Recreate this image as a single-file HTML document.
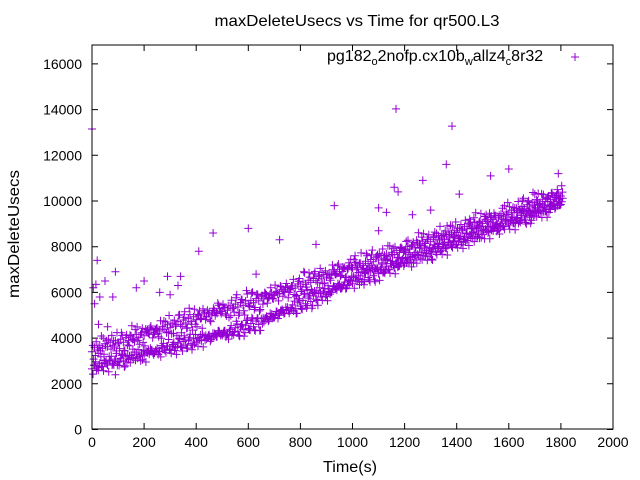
<!DOCTYPE html>
<html><head><meta charset="utf-8"><style>
body{margin:0;background:#fff}
svg{display:block;font-family:"Liberation Sans",sans-serif}
</style></head><body>
<svg id="chart" width="640" height="480" xmlns="http://www.w3.org/2000/svg">
<rect x="0" y="0" width="640" height="480" fill="#fff"/>
<text x="357" y="26" font-size="16" text-anchor="middle" textLength="285" lengthAdjust="spacingAndGlyphs">maxDeleteUsecs vs Time for qr500.L3</text>
<text x="19" y="234" font-size="16" text-anchor="middle" textLength="128" lengthAdjust="spacingAndGlyphs" transform="rotate(-90 19 234)">maxDeleteUsecs</text>
<text x="350" y="472" font-size="16" text-anchor="middle" textLength="54" lengthAdjust="spacingAndGlyphs">Time(s)</text>
<g id="ticks"></g>
<g id="pts"></g>
<rect x="92" y="45" width="521" height="384" fill="none" stroke="#000" stroke-width="1"/>
<text x="327" y="61" font-size="16">pg182<tspan font-size="11" dy="4">o</tspan><tspan dy="-4">2nofp.cx10b</tspan><tspan font-size="11" dy="4">w</tspan><tspan dy="-4">allz4</tspan><tspan font-size="11" dy="4">c</tspan><tspan dy="-4">8r32</tspan></text>
<path d="M571 57h8M575 53v8" stroke="#9400d3" stroke-width="1"/>
</svg>
<script>
const xTicks=[0,200,400,600,800,1000,1200,1400,1600,1800,2000];
const yTicks=[0,2000,4000,6000,8000,10000,12000,14000,16000];
const step=10;
const lowerBand=[2650,2800,2700,2900,2750,2950,2820,3000,2880,3080,2950,3120,3000,3180,3060,3250,3100,3300,3180,3350,3220,3420,3300,3480,3350,3550,3400,3600,3460,3650,3520,3720,3580,3780,3650,3850,3700,3900,3760,3960,3820,4020,3880,4080,3950,4150,4000,4200,4060,4260,4120,4320,4180,4380,4250,4450,4300,4500,4380,4560,4420,
4640,4500,4750,4600,4850,4700,4950,4800,5050,4900,5150,5000,5250,5100,5350,5200,5450,5300,5550,5400,5650,5500,5750,5600,5850,5700,5950,5800,6050,5900,6150,6000,6250,6100,6350,6200,6450,6300,6550,6400,
6650,6480,6720,6560,6820,6650,6900,6730,6990,6820,7080,6900,7150,6990,7250,7080,7330,7160,7420,7250,7500,7330,7580,7420,7670,7500,7750,7590,7840,7680,7920,7760,8010,7850,8090,7930,8180,8020,8260,8100,
8350,8190,8430,8270,8520,8360,8600,8440,8690,8530,8770,8610,8860,8700,8940,8780,9030,8870,9110,8950,9200,9040,9280,9120,9370,9210,9450,9290,9540,9380,9620,9460,9710,9550,9790,9630,9880,9720,9960,9850];
const upperBand=[3400,3600,3480,3680,3550,3750,3620,3820,3690,3880,3750,3950,3820,4020,3890,4090,3960,4160,4030,4230,4100,4300,4170,4370,4240,4440,4310,4510,4380,4580,4450,4650,4520,4720,4590,4790,4660,4860,4730,4930,4800,5000,4870,5070,4940,5140,5010,5210,5080,5280,5150,5350,5220,5420,5290,5490,5360,5560,5430,5630,5500,
5650,5550,5730,5630,5810,5710,5890,5790,5970,5870,6050,5950,6130,6030,6210,6110,6290,6190,6370,6270,6450,6350,6530,6430,6610,6510,6690,6590,6770,6670,6850,6750,6930,6830,7010,6910,7090,6990,7170,7070,
7200,7100,7280,7180,7360,7260,7440,7340,7520,7420,7600,7500,7680,7580,7760,7660,7840,7740,7920,7820,8000,7900,8080,7980,8160,8060,8240,8140,8320,8220,8400,8300,8480,8380,8560,8460,8640,8540,8720,8620,
8800,8700,8880,8780,8960,8860,9040,8940,9120,9020,9200,9100,9280,9180,9360,9260,9440,9340,9520,9420,9600,9500,9680,9580,9760,9660,9840,9740,9920,9820,10000,9900,10080,9980,10160,10060,10240,10140,10320,10220];
const spreadA=[-320,240,-150,410,-260,130,-420,300,-80,360,-210,170,-380];
const spreadB=[280,-360,120,-230,450,-120,330,-300,200,-440,60];
const outlierT=[0,5,15,20,10,30,50,80,90,170,200,260,290,300,330,340,410,465,600,630,720,860,930,1010,1100,1160,1167,1175,1270,1360,1382,1410,1530,1600,1700,1790,1100,1130,1230,1450,1300,90,25,60];
const outlierV=[13150,6200,6350,7400,5500,5800,6500,5800,6900,6200,6500,6000,6700,5900,6300,6700,7800,8600,8800,6800,8300,8100,9800,7600,9700,10600,14030,10400,10900,11600,13280,10300,11100,11400,10300,11200,8700,9500,9400,9200,9600,2400,4600,4500];
const X0=92,X1=613,Y0=429.5,Y1=63.9;
function sx(t){return X0+(t/2000)*(X1-X0);}
function sy(v){return Y0-(v/16000)*(Y0-Y1);}
const NS="http://www.w3.org/2000/svg";
const tg=document.getElementById('ticks');
let td="";
xTicks.forEach(t=>{const x=sx(t);td+=`M${x} 429v-6M${x} 45v6`;
 const tx=document.createElementNS(NS,'text');tx.setAttribute('x',x);tx.setAttribute('y',447);tx.setAttribute('font-size','14');tx.setAttribute('text-anchor','middle');tx.textContent=t;
 
 
 tg.appendChild(tx);});
yTicks.forEach(v=>{const y=sy(v);td+=`M92 ${y}h6M613 ${y}h-6`;
 const tx=document.createElementNS(NS,'text');tx.setAttribute('x',82);tx.setAttribute('y',y+5);tx.setAttribute('font-size','14');tx.setAttribute('text-anchor','end');tx.textContent=v;
 
 
 tg.appendChild(tx);});
const tp=document.createElementNS(NS,'path');tp.setAttribute('d',td);tp.setAttribute('stroke','#000');tp.setAttribute('stroke-width','1');


tg.appendChild(tp);
let pd="";
function cross(t,v){const x=sx(t),y=sy(v);pd+=`M${(x-4).toFixed(1)} ${y.toFixed(1)}h8M${x.toFixed(1)} ${(y-4).toFixed(1)}v8`;}
lowerBand.forEach((v,i)=>{cross(i*step,v);cross(i*step+4,v+spreadA[i%spreadA.length]*0.7);cross(i*step+7,v+spreadB[i%spreadB.length]*0.6);});
upperBand.forEach((v,i)=>{cross(i*step,v);cross(i*step+3,v+spreadB[i%spreadB.length]);cross(i*step+6,v+spreadA[i%spreadA.length]);});
outlierT.forEach((t,i)=>cross(t,outlierV[i]));
const pp=document.createElementNS(NS,'path');pp.setAttribute('d',pd);pp.setAttribute('stroke','#9400d3');pp.setAttribute('stroke-width','1');pp.setAttribute('fill','none');


document.getElementById('pts').appendChild(pp);
</script>
</body></html>
